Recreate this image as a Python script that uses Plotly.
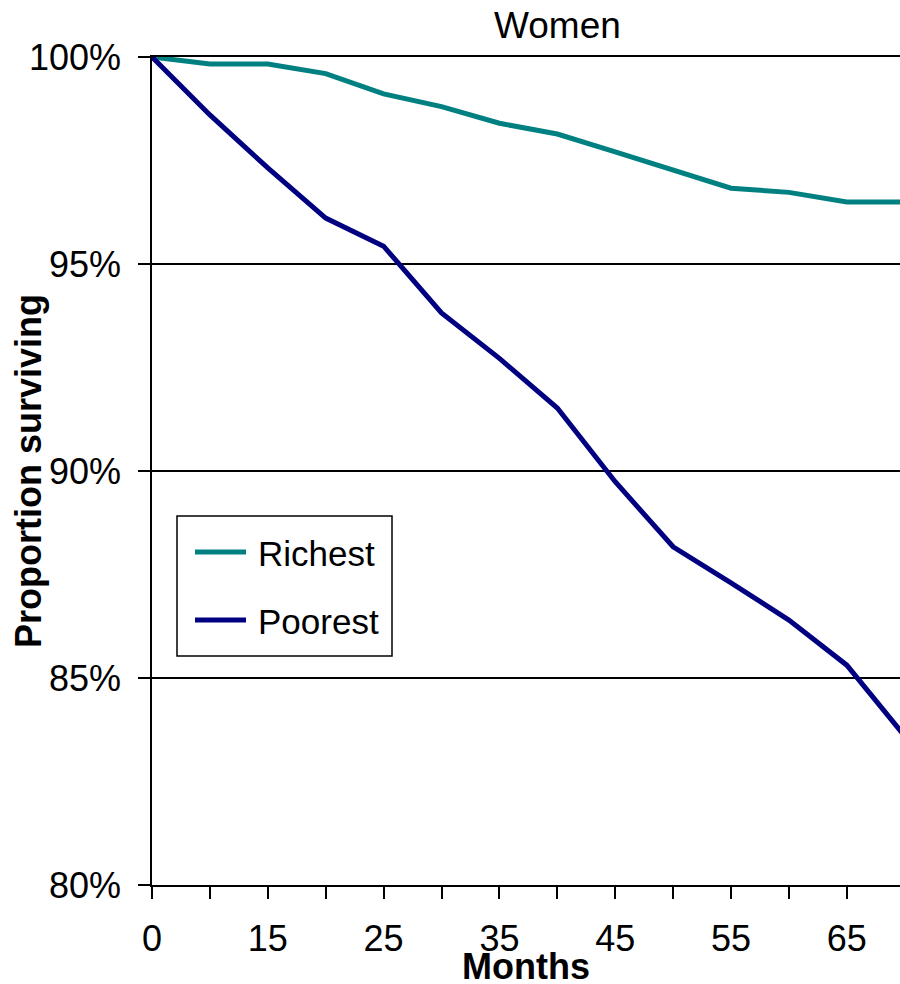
import plotly.graph_objects as go

# Survival curves by wealth group (women), months since baseline
months = ["0", "10", "15", "20", "25", "30", "35", "40", "45", "50", "55", "60", "65", "70"]
month_labels = ["0", "", "15", "", "25", "", "35", "", "45", "", "55", "", "65", ""]
richest = [1.000, 0.9983, 0.9983, 0.9960, 0.9911, 0.9880, 0.9840, 0.9814, 0.9771, 0.9727, 0.9683, 0.9673, 0.9650, 0.9650]
poorest = [1.000, 0.9860, 0.9732, 0.9611, 0.9543, 0.9382, 0.9272, 0.9152, 0.8974, 0.8817, 0.8730, 0.8640, 0.8531, 0.8360]
series_names = ["Richest", "Poorest"]
series_colors = ["#008080", "#000080"]

W, H = 900, 984
L, R, T, B = 152, 0, 57, 99
PW, PH = W - L - R, H - T - B
FONT = "Liberation Sans, Arial, sans-serif"
CAT_PX = 57.9  # horizontal spacing of one category


def px_x(x):
    return (x - L) / PW


def px_y(y):
    return (H - B - y) / PH


fig = go.Figure()
for name, vals, col in zip(series_names, [richest, poorest], series_colors):
    fig.add_trace(go.Scatter(x=months, y=vals, mode="lines", name=name,
                             line=dict(color=col, width=5), showlegend=False))

fig.update_xaxes(type="category", categoryorder="array", categoryarray=months,
                 range=[0, PW / CAT_PX], tickmode="array", tickvals=months, ticktext=month_labels,
                 ticks="outside", ticklen=12, tickwidth=1.5, tickcolor="black",
                 showline=True, linecolor="black", linewidth=1.5, mirror=True,
                 showgrid=False, zeroline=False, ticklabelstandoff=9,
                 tickfont=dict(family=FONT, size=36, color="black"))
fig.update_yaxes(range=[0.8, 1.0], tick0=0.8, dtick=0.05, tickformat=".0%",
                 ticks="outside", ticklen=12, tickwidth=1.5, tickcolor="black",
                 showline=True, linecolor="black", linewidth=1.5,
                 showgrid=True, gridcolor="black", gridwidth=1.5, zeroline=False,
                 ticklabelstandoff=10,
                 tickfont=dict(family=FONT, size=36, color="black"))

annotations = [
    dict(text="Women", x=px_x(557), y=px_y(25), xref="paper", yref="paper",
         xanchor="center", yanchor="middle", showarrow=False,
         font=dict(family=FONT, size=37, color="black")),
    dict(text="<b>Months</b>", x=px_x(526), y=px_y(966), xref="paper", yref="paper",
         xanchor="center", yanchor="middle", showarrow=False,
         font=dict(family=FONT, size=36, color="black")),
    dict(text="<b>Proportion surviving</b>", x=px_x(28), y=px_y(471), xref="paper", yref="paper",
         xanchor="center", yanchor="middle", textangle=-90, showarrow=False,
         font=dict(family=FONT, size=36, color="black")),
]

# Boxed key in the lower-left of the plot
shapes = [dict(type="rect", xref="paper", yref="paper",
               x0=px_x(177), x1=px_x(392), y0=px_y(656), y1=px_y(516),
               line=dict(color="black", width=1.5), fillcolor="white", layer="above")]
key_rows = [552, 620]
for name, col, yy in zip(series_names, series_colors, key_rows):
    shapes.append(dict(type="line", xref="paper", yref="paper",
                       x0=px_x(195), x1=px_x(246), y0=px_y(yy), y1=px_y(yy),
                       line=dict(color=col, width=5), layer="above"))
    annotations.append(dict(text=name, x=px_x(256), y=px_y(yy + 1), xref="paper", yref="paper",
                            xanchor="left", yanchor="middle", showarrow=False,
                            font=dict(family=FONT, size=35, color="black")))

fig.update_layout(width=W, height=H, margin=dict(l=L, r=R, t=T, b=B, pad=0),
                  paper_bgcolor="white", plot_bgcolor="white",
                  annotations=annotations, shapes=shapes, showlegend=False)

fig.write_html("out.html")
